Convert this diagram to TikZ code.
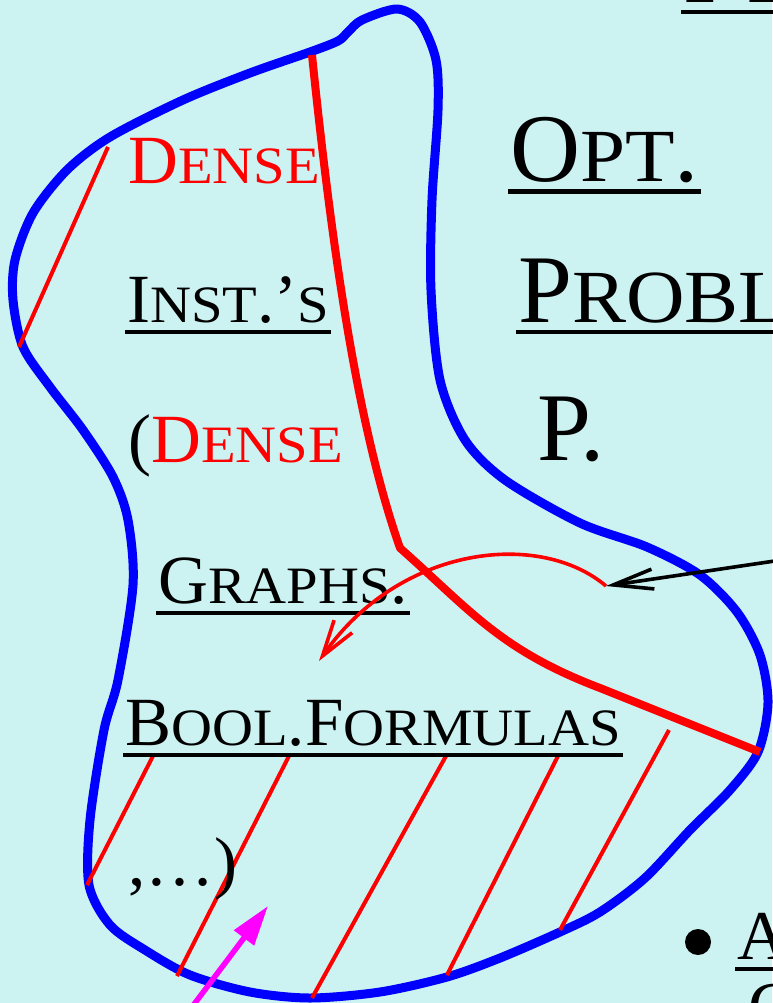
\documentclass[tikz,border=0pt]{standalone}
\usepackage{fontspec}
\setmainfont{Liberation Serif}
\newfontfamily\scfont[FakeStretch=1.08]{Liberation Serif}
\usetikzlibrary{arrows.meta,positioning}

\definecolor{slidebg}{RGB}{204,242,242}
\definecolor{pointmag}{RGB}{255,0,255}
\newcommand{\lcap}{\fontsize{69}{70}\selectfont}
\newcommand{\lsc}{\scfont\fontsize{52.5}{54}\selectfont}
\newcommand{\rcap}{\fontsize{97}{98}\selectfont}
\newcommand{\rsc}{\scfont\fontsize{75}{76}\selectfont}

\begin{document}
\begin{tikzpicture}[x=1pt, y=-1pt, inner sep=0pt,
  txt/.style={anchor=base west, font=\lcap},
  bigtxt/.style={anchor=base west, font=\rcap},
  uline/.style={line width=4pt},
  border/.style={blue, line width=9pt, line join=round},
  cut/.style={red, line width=8pt, line join=round},
  hatch/.style={red, line width=4pt},
  redarc/.style={red, line width=3.6pt, -{Straight Barb[length=36pt,width=22pt]}},
  blkarrow/.style={line width=3.6pt, -{Straight Barb[length=40pt,width=20pt]}},
  magarrow/.style={pointmag, line width=5.5pt, -{Triangle[length=40pt,width=24pt]}}]

  \useasboundingbox (0,0) rectangle (772,1003);
  \fill[slidebg] (0,0) rectangle (772,1003);

  \draw[border] plot[smooth cycle] coordinates {
    (397,9) (420,22) (436,60) (438,110) (432,200) (431,290) (440,380)
    (465,440) (505,480) (580,523) (647,547) (700,575) (737,612) (760,655)
    (768,703) (758,752) (730,790) (690,830) (645,878) (600,912)
    (560,932) (500,958) (447,977) (380,992) (310,998) (250,992) (190,975)
    (145,950) (110,925) (89,885) (90,820) (104,730) (118,680) (133,585)
    (128,520) (113,477) (83,430) (50,387) (23,347) (13,300) (15,260)
    (33,213) (67,170) (110,137) (183,100) (250,73) (310,52) (338,41)
    (348,32) (362,20)};

  \draw[cut] (312,55) .. controls (330,230) and (355,420) .. (400,548)
    .. controls (470,610) and (500,650) .. (600,688) -- (760,752);

  \foreach \xa/\ya/\xb/\yb in {108/147/19/347, 153/756/87/885, 289/756/177/976,
      446/756/312/998, 558/756/447/975, 669/730/560/930}
    \draw[hatch] (\xa,\ya) -- (\xb,\yb);

  \node[txt, red] (dense) at (128,183) {D{\lsc ENSE}};
  \node[txt] (inst) at (127,322) {I{\lsc NST}.'{\lsc S}};
  \node[txt] (dense2) at (128,462) {(\textcolor{red}{D{\lsc ENSE}}};
  \node[txt] (graphs) at (158,603) {G{\lsc RAPHS}.};
  \node[txt] (bool) at (125,745) {B{\lsc OOL}.F{\lsc ORMULAS}};
  \node[txt] (etc) at (128,885) {,\ldots)};

  \node[bigtxt] (opt) at (510,182) {O{\rsc PT}.};
  \node[bigtxt] (probl) at (518,322) {P{\rsc ROBLEM}};
  \node[bigtxt] (prob) at (537,460) {P.};
  \node[bigtxt] (title) at (683,3) {P{\rsc TAS}};

  \node[circle, fill, minimum size=26pt] (dot) at (698,942) {};
  \node[txt, font=\fontsize{70}{72}\selectfont] (itemA) at (737,959) {A};
  \node[txt, font=\fontsize{70}{72}\selectfont] (itemC) at (748,1030) {C};

  \foreach \n in {inst,graphs,bool,opt,probl,title,itemA}
    \draw[uline] ([xshift=-2pt,yshift=-9.5pt]\n.base west) -- ([xshift=2pt,yshift=-9.5pt]\n.base east);

  \coordinate (arcstart) at (606,586);
  \coordinate (arcend) at (319,661);
  \coordinate (farright) at (795,558);
  \coordinate (magstart) at (186,1015);
  \coordinate (magtip) at (268,906);

  \draw[redarc] (arcstart) .. controls (540,530) and (400,545) .. (arcend);
  \draw[blkarrow] (farright) -- (arcstart);
  \draw[magarrow] (magstart) -- (magtip);
\end{tikzpicture}
\end{document}
